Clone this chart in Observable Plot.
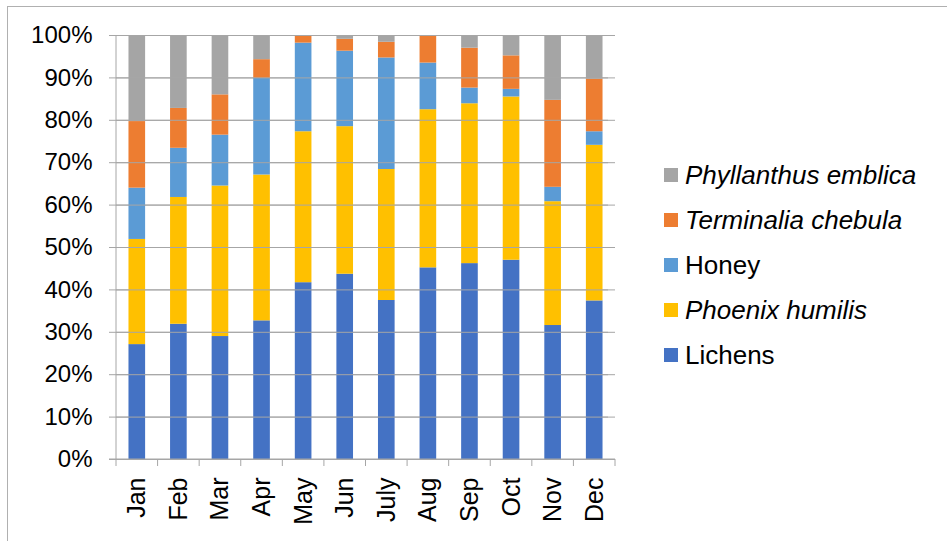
<!DOCTYPE html>
<html>
<head>
<meta charset="utf-8">
<script src="https://cdn.jsdelivr.net/npm/d3@7"></script>
<script src="https://cdn.jsdelivr.net/npm/@observablehq/plot@0.6"></script>
<style>
  html, body { margin: 0; padding: 0; background: #fff; }
  #wrap { position: relative; width: 947px; height: 541px; overflow: hidden; font-family: "Liberation Sans", Arial, sans-serif; }
  #frame { position: absolute; left: 7px; top: 6px; width: 960px; height: 560px; border-top: 1px solid #b0b0b0; border-left: 1px solid #b0b0b0; }
  #chart { position: absolute; left: 0; top: 0; }
  #legend { position: absolute; left: 664px; top: 0; }
  .item { position: absolute; left: 0; white-space: nowrap; font-size: 26px; color: #000; display: flex; align-items: center; }
  .sw { width: 14px; height: 14px; margin-right: 7px; flex: none; }
</style>
</head>
<body>
<div id="wrap">
  <div id="frame"></div>
  <div id="chart"></div>
  <div id="legend"></div>
</div>
<script>
const months = ["Jan","Feb","Mar","Apr","May","Jun","July","Aug","Sep","Oct","Nov","Dec"];
const series = ["Lichens","Phoenix humilis","Honey","Terminalia chebula","Phyllanthus emblica"];
const italicSeries = ["Phoenix humilis","Terminalia chebula","Phyllanthus emblica"];
const colors = ["#4472C4","#FFC000","#5B9BD5","#ED7D31","#A5A5A5"];
const lichens            = [27.1, 31.9, 29.0, 32.7, 41.7, 43.7, 37.5, 45.2, 46.2, 47.0, 31.6, 37.4];
const phoenixHumilis     = [24.8, 29.9, 35.5, 34.4, 35.6, 34.8, 30.9, 37.3, 37.7, 38.5, 29.2, 36.7];
const honey              = [12.1, 11.6, 12.0, 22.8, 20.9, 17.8, 26.3, 11.0,  3.7,  1.8,  3.4,  3.2];
const terminaliaChebula  = [15.7,  9.4,  9.5,  4.4,  1.8,  2.8,  3.7,  6.5,  9.4,  7.9, 20.5, 12.4];
const phyllanthusEmblica = [20.3, 17.2, 14.0,  5.7,  0.0,  0.9,  1.6,  0.0,  3.0,  4.8, 15.3, 10.3];
const yTicks = [0,0.1,0.2,0.3,0.4,0.5,0.6,0.7,0.8,0.9,1.0];

const valuesBySeries = [lichens, phoenixHumilis, honey, terminaliaChebula, phyllanthusEmblica];
const rows = [];
months.forEach((m, i) => {
  series.forEach((s, j) => rows.push({month: m, series: s, value: valuesBySeries[j][i]}));
});

const W = 947, H = 541;
const font = "'Liberation Sans', Arial, sans-serif";
const chart = Plot.plot({
  width: W, height: H,
  marginLeft: 116, marginRight: 332, marginTop: 35, marginBottom: 82,
  style: {fontFamily: font, color: "#000", background: "transparent", overflow: "visible"},
  x: {domain: months, paddingInner: 0.6, paddingOuter: 0.3, round: false, axis: null},
  y: {domain: [0, 1], axis: null},
  color: {domain: series, range: colors},
  marks: [
    Plot.ruleY(yTicks, {stroke: "#a6a6a6", strokeWidth: 1}),
    Plot.barY(rows, Plot.stackY({offset: "normalize", order: series, x: "month", y: "value", fill: "series"})),
    Plot.tickY(yTicks, {y: d => d, frameAnchor: "left", stroke: "#a6a6a6", dx: -7}),
    Plot.text(yTicks, {y: d => d, frameAnchor: "left", dx: -24, textAnchor: "end", text: d => d3.format(".0%")(d), fontSize: 24, fill: "#000"}),
    Plot.text(months, {x: d => d, frameAnchor: "bottom", dy: 18, rotate: -90, textAnchor: "end", lineAnchor: "middle", text: d => d, fontSize: 25, fill: "#000"}),
  ]
});
document.getElementById("chart").appendChild(chart);

// Axis lines and category tick marks, positioned from the plot's own scales
const xs = chart.scale("x"), ys = chart.scale("y");
const svg = d3.select(chart);
const gap = (xs.step - xs.bandwidth) / 2;
const leftEdge = xs.apply(months[0]) - gap;
const rightEdge = xs.apply(months[months.length - 1]) + xs.bandwidth + gap;
const y0 = ys.apply(0), y1 = ys.apply(1);
const g = svg.append("g").attr("stroke", "#a6a6a6").attr("stroke-width", 1);
g.append("line").attr("x1", leftEdge).attr("x2", leftEdge).attr("y1", y1).attr("y2", y0 + 7);
g.append("line").attr("x1", leftEdge - 7).attr("x2", rightEdge).attr("y1", y0).attr("y2", y0);
months.forEach(m => {
  const xx = xs.apply(m) + xs.bandwidth + gap;
  g.append("line").attr("x1", xx).attr("x2", xx).attr("y1", y0).attr("y2", y0 + 7);
});

// Legend
const legend = document.getElementById("legend");
const legendOrder = series.slice().reverse();
const legendColors = colors.slice().reverse();
legendOrder.forEach((s, i) => {
  const d = document.createElement("div");
  d.className = "item";
  d.style.top = (175 + i * 45 - 16) + "px";
  d.style.height = "32px";
  const sw = document.createElement("span");
  sw.className = "sw";
  sw.style.background = legendColors[i];
  const t = document.createElement("span");
  t.textContent = s;
  if (italicSeries.includes(s)) t.style.fontStyle = "italic";
  d.appendChild(sw); d.appendChild(t);
  legend.appendChild(d);
});
</script>
</body>
</html>
